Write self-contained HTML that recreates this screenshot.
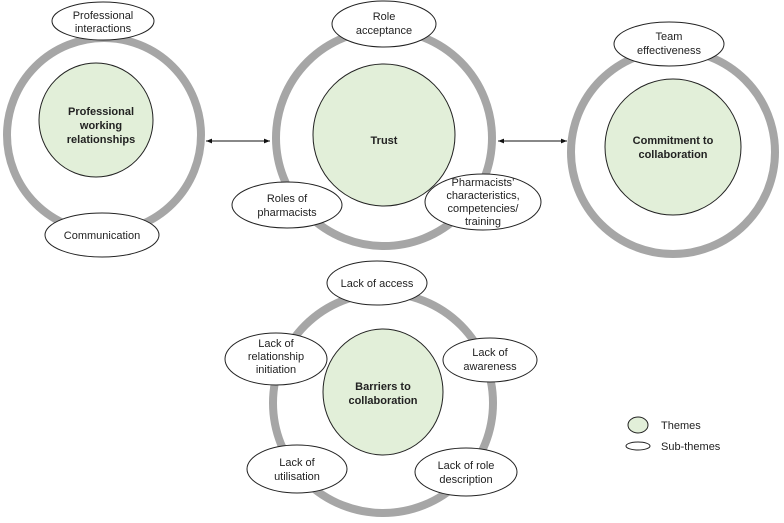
<!DOCTYPE html>
<html><head><meta charset="utf-8"><style>
html,body{margin:0;padding:0;background:#fff;}
text{font-family:"Liberation Sans",sans-serif;font-size:11px;fill:#222;text-anchor:middle;}
.b{font-weight:bold;font-size:11px;}
</style></head><body>
<svg width="784" height="518" viewBox="0 0 784 518" xmlns="http://www.w3.org/2000/svg">
<defs>
<marker id="a" viewBox="0 0 10 10" refX="10" refY="5" markerWidth="6" markerHeight="6" orient="auto-start-reverse"><path d="M0,1 L10,5 L0,9 z" fill="#111"/></marker>
</defs>
<g fill="none" stroke="#a6a6a6" stroke-width="8">
<circle cx="104" cy="135" r="97"/>
<circle cx="384" cy="138" r="108"/>
<circle cx="673" cy="152" r="102"/>
<circle cx="383" cy="403" r="110"/>
</g>
<g fill="#e2efd9" stroke="#222" stroke-width="1">
<circle cx="96" cy="120" r="57"/>
<circle cx="384" cy="135" r="71"/>
<circle cx="673" cy="147" r="68"/>
<ellipse cx="383" cy="392" rx="60" ry="63"/>
<ellipse cx="638" cy="425" rx="10" ry="8"/>
</g>
<line x1="206" y1="141" x2="270" y2="141" stroke="#111" stroke-width="1" marker-start="url(#a)" marker-end="url(#a)"/>
<line x1="498" y1="141" x2="567" y2="141" stroke="#111" stroke-width="1" marker-start="url(#a)" marker-end="url(#a)"/>
<g fill="#fff" stroke="#222" stroke-width="1">
<ellipse cx="103" cy="21" rx="51" ry="19"/>
<ellipse cx="102" cy="235" rx="57" ry="22"/>
<ellipse cx="287" cy="205" rx="55" ry="23"/>
<ellipse cx="384" cy="24" rx="52" ry="23"/>
<ellipse cx="483" cy="202" rx="58" ry="28"/>
<ellipse cx="669" cy="44" rx="55" ry="22"/>
<ellipse cx="377" cy="283" rx="50" ry="22"/>
<ellipse cx="276" cy="359" rx="51" ry="26"/>
<ellipse cx="490" cy="360" rx="47" ry="22"/>
<ellipse cx="297" cy="469" rx="50" ry="24"/>
<ellipse cx="466" cy="472" rx="51" ry="24"/>
<ellipse cx="638" cy="446" rx="12" ry="4"/>
</g>
<text class="b" x="101" y="115">Professional</text>
<text class="b" x="101" y="129">working</text>
<text class="b" x="101" y="143">relationships</text>
<text class="b" x="384" y="144">Trust</text>
<text class="b" x="673" y="144">Commitment to</text>
<text class="b" x="673" y="158">collaboration</text>
<text class="b" x="383" y="390">Barriers to</text>
<text class="b" x="383" y="404">collaboration</text>
<text x="103" y="19">Professional</text>
<text x="103" y="32">interactions</text>
<text x="102" y="239">Communication</text>
<text x="287" y="202">Roles of</text>
<text x="287" y="216">pharmacists</text>
<text x="384" y="20">Role</text>
<text x="384" y="34">acceptance</text>
<text x="483" y="186">Pharmacists’</text>
<text x="483" y="199">characteristics,</text>
<text x="483" y="212">competencies/</text>
<text x="483" y="225">training</text>
<text x="669" y="40">Team</text>
<text x="669" y="54">effectiveness</text>
<text x="377" y="287">Lack of access</text>
<text x="276" y="347">Lack of</text>
<text x="276" y="360">relationship</text>
<text x="276" y="373">initiation</text>
<text x="490" y="356">Lack of</text>
<text x="490" y="370">awareness</text>
<text x="297" y="466">Lack of</text>
<text x="297" y="480">utilisation</text>
<text x="466" y="469">Lack of role</text>
<text x="466" y="483">description</text>
<text x="661" y="429" style="text-anchor:start">Themes</text>
<text x="661" y="450" style="text-anchor:start">Sub-themes</text>
</svg>
</body></html>
